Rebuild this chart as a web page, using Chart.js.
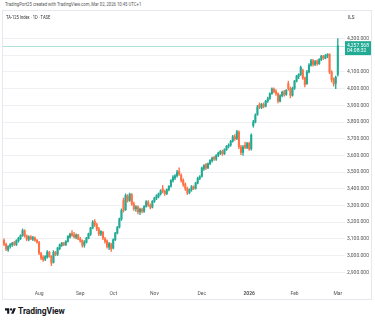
<!DOCTYPE html>
<html>
<head>
<meta charset="utf-8">
<script src="https://cdn.jsdelivr.net/npm/chart.js@4.4.1/dist/chart.umd.min.js"></script>
<style>
  body { margin: 0; width: 375px; height: 323px; background: #fff; position: relative; overflow: hidden; font-family: Roboto, "Noto Sans", sans-serif; }
  #credit { position: absolute; left: 5px; top: 2px; font-size: 4.6px; color: #555; white-space: nowrap; transform: scale(0.92, 1); transform-origin: left center; }
  #frame { position: absolute; left: 2px; top: 10px; width: 368px; height: 288px; border: 1px solid #e6e8ee; }
  #frame canvas { position: absolute; left: 0; top: 0; }
  #symbol { position: absolute; left: 6px; top: 14.5px; font-size: 4.5px; color: #333; white-space: nowrap; z-index: 2; transform: scale(0.9, 1); transform-origin: left center; }
  #currency { position: absolute; left: 348px; top: 14.5px; font-size: 4.6px; color: #333; z-index: 2; }
  #logo { position: absolute; left: 5px; top: 305px; height: 12px; display: flex; align-items: center; gap: 2px; }
  #logo span { font-size: 8.5px; font-weight: 700; color: #131722; letter-spacing: -0.1px; }
</style>
</head>
<body>
<div id="credit">TradingPort25 created with TradingView.com, Mar 02, 2026 10:45 UTC+1</div>
<div id="frame"><canvas id="myChart" width="368" height="288"></canvas></div>
<div id="symbol">TA-125 Index · 1D · TASE</div>
<div id="currency">ILS</div>
<div id="logo">
  <svg width="11" height="8" viewBox="0 0 36 26"><path d="M14 22H7V11H0V4h14v18zM28 22h-8l7.5-18h8L28 22z" fill="#131722"/><circle cx="20" cy="8" r="3.8" fill="#131722"/></svg>
  <span>TradingView</span>
</div>
<script>
// Velas diarias TA-125 (jul 2025 - mar 2026)
const open = [3092,3068,3035,3055,3065,3078,3066,3088,3102,3120,3148,3118,3098,3112,3098,3106,3092,
  3078,3012,2990,2978,2990,3020,2995,2960,3018,3008,3042,3060,3075,3066,3085,3110,3135,3125,3110,3124,
  3100,3090,3062,3080,3104,3128,3165,3205,3185,3160,3128,3140,3100,3088,3050,3070,
  3045,3095,3135,3170,3220,3330,3275,3355,3330,3365,3310,3280,3292,3262,3278,3265,3295,3322,3302,3290,
  3325,3345,3355,3370,3400,3385,3372,3395,3415,3450,3465,3478,3505,3480,3450,3425,3400,3378,3395,3412,3402,3435,3462,
  3475,3520,3545,3525,3550,3568,3588,3578,3600,3612,3625,3610,3635,3655,3662,3685,3712,3700,3740,3650,3618,3660,3648,
  3672,3640,3780,3800,3845,3905,3888,3905,3895,3925,3940,3970,3998,3985,3970,3925,3958,3980,3965,4030,4000,3960,
  4002,4045,4072,4085,4110,4065,4030,4100,4140,4168,4145,4165,4150,4175,4195,4182,4196,4205,4100,4058,4032,
  4085];
const high = [3100,3075,3060,3072,3080,3085,3095,3110,3125,3160,3155,3125,3118,3120,3115,3112,3098,
  3085,3020,3000,3000,3030,3025,3000,3030,3025,3050,3070,3080,3080,3090,3120,3135,3150,3140,3130,3128,
  3110,3095,3090,3110,3135,3170,3210,3215,3195,3170,3150,3145,3110,3095,3080,3075,
  3100,3140,3175,3225,3280,3345,3370,3365,3375,3372,3320,3300,3298,3285,3285,3300,3330,3330,3310,3330,
  3350,3365,3375,3395,3420,3392,3400,3420,3455,3480,3485,3510,3525,3490,3460,3435,3410,3400,3420,3418,3440,3470,3480,
  3530,3545,3552,3555,3575,3590,3595,3605,3620,3630,3632,3640,3660,3670,3690,3720,3725,3750,3748,3660,3660,3680,3678,
  3680,3730,3810,3850,3900,3915,3912,3915,3930,3950,3975,4005,4005,3995,3975,3965,3985,3990,3995,4045,4010,4010,
  4050,4080,4090,4135,4118,4070,4110,4150,4175,4175,4170,4172,4180,4200,4200,4205,4210,4210,4108,4065,4075,
  4300];
const low = [3060,3030,3025,3045,3055,3060,3060,3080,3095,3115,3110,3090,3088,3095,3090,3085,3075,
  3005,2975,2965,2970,2985,2990,2940,2955,3000,3000,3035,3055,3060,3060,3080,3105,3115,3105,3100,3095,
  3080,3050,3050,3075,3100,3120,3160,3175,3150,3120,3120,3095,3075,3045,3035,3025,
  3040,3090,3130,3165,3210,3260,3270,3320,3325,3300,3270,3265,3250,3245,3255,3258,3290,3295,3280,3285,
  3318,3335,3345,3362,3375,3360,3365,3388,3410,3440,3455,3470,3480,3440,3415,3390,3365,3370,3385,3395,3398,3430,3455,
  3470,3510,3515,3520,3545,3560,3570,3570,3592,3605,3600,3605,3630,3645,3655,3680,3690,3695,3640,3605,3600,3640,3640,
  3630,3632,3770,3795,3840,3880,3880,3885,3890,3918,3935,3965,3975,3960,3915,3920,3950,3955,3960,3990,3945,3955,
  3995,4040,4060,4080,4055,4010,4025,4095,4135,4135,4138,4140,4145,4168,4175,4178,4185,4090,4040,4015,4000,
  4075];
const close = [3068,3040,3055,3068,3075,3066,3090,3105,3120,3150,3118,3098,3112,3100,3108,3092,3080,
  3015,2985,2975,2995,3022,2995,2955,3020,3008,3045,3065,3075,3066,3085,3115,3128,3120,3112,3124,3100,
  3088,3062,3082,3105,3130,3165,3200,3185,3160,3130,3145,3105,3085,3055,3072,3040,
  3095,3135,3168,3220,3270,3272,3360,3330,3368,3310,3280,3292,3262,3278,3265,3295,3322,3302,3290,3325,
  3345,3358,3370,3388,3385,3372,3395,3415,3450,3470,3478,3500,3488,3450,3425,3400,3375,3395,3412,3402,3435,3462,3472,
  3525,3540,3525,3550,3570,3585,3578,3600,3615,3625,3610,3635,3655,3662,3685,3712,3700,3742,3652,3618,3650,3648,3672,
  3640,3722,3800,3840,3890,3888,3905,3895,3925,3940,3970,3998,3982,3970,3925,3958,3978,3965,3990,4000,3960,4002,
  4045,4075,4085,4128,4065,4025,4100,4142,4168,4145,4162,4150,4175,4195,4182,4198,4205,4100,4055,4030,4068,
  4257.568];

// Etiquetas del eje de tiempo (índice de la primera vela del mes)
const monthTickLabels = ['Aug', 'Sep', 'Oct', 'Nov', 'Dec', '2026', 'Feb', 'Mar'];
const monthTickBars = [17, 37, 53, 73, 96, 119, 141, 162];

// Eje de precios
const priceTicks = [2900, 3000, 3100, 3200, 3300, 3400, 3500, 3600, 3700, 3800, 3900, 4000, 4100, 4200, 4300];
const hiddenPriceLabels = [4200]; // tapado por la etiqueta del último precio
const lastPrice = close[close.length - 1];
const countdown = '04:08:32';
const rightOffsetSlots = ['r1', 'r2', 'r3'];

const UP = '#22ab94';
const DOWN = '#ff7043';
const FONT = 'Roboto, "Noto Sans", sans-serif';

const fmt = v => v.toLocaleString('en-US', { minimumFractionDigits: 3, maximumFractionDigits: 3 });

const colors = close.map((c, i) => (c >= open[i] ? UP : DOWN));
const labels = close.map((_, i) => 'd' + i).concat(rightOffsetSlots);

// Etiquetas de meses sobre la escala x
const monthLabelsPlugin = {
    id: 'monthLabels',
    afterDraw(chart) {
        const { ctx, scales: { x } } = chart;
        ctx.save();
        ctx.fillStyle = '#555';
        ctx.textAlign = 'center';
        ctx.textBaseline = 'middle';
        monthTickLabels.forEach((txt, k) => {
            ctx.font = (txt === '2026' ? 'bold ' : '') + '5px ' + FONT;
            ctx.fillText(txt, x.getPixelForValue(monthTickBars[k]), x.top + 7);
        });
        ctx.restore();
    }
};

// Línea y etiqueta del último precio
const lastPriceMark = {
    id: 'lastPriceMark',
    beforeDatasetsDraw(chart) {
        const { ctx, chartArea, scales: { y } } = chart;
        const py = Math.round(y.getPixelForValue(lastPrice)) + 0.5;
        ctx.save();
        ctx.strokeStyle = 'rgba(34,171,148,0.35)';
        ctx.lineWidth = 1;
        ctx.beginPath();
        ctx.moveTo(chartArea.left, py);
        ctx.lineTo(chartArea.right, py);
        ctx.stroke();
        ctx.restore();
    },
    afterDraw(chart) {
        const { ctx, chartArea, scales: { y }, width } = chart;
        const py = y.getPixelForValue(lastPrice);
        ctx.save();
        ctx.fillStyle = UP;
        ctx.fillRect(chartArea.right, py - 4.5, width - chartArea.right, 14);
        ctx.fillStyle = '#fff';
        ctx.font = '5px ' + FONT;
        ctx.textBaseline = 'middle';
        ctx.textAlign = 'left';
        ctx.fillText(fmt(lastPrice), chartArea.right + 2, py);
        ctx.fillText(countdown, chartArea.right + 2, py + 5.5);
        ctx.restore();
    }
};

const config = {
    type: 'bar',
    data: {
        labels: labels,
        datasets: [
            {
                label: 'wick',
                data: low.map((l, i) => [l, high[i]]),
                backgroundColor: colors,
                barThickness: 0.7,
                grouped: false,
                order: 2
            },
            {
                label: 'body',
                data: open.map((o, i) => [o, close[i]]),
                backgroundColor: colors,
                barThickness: 1.4,
                grouped: false,
                order: 1
            }
        ]
    },
    options: {
        responsive: false,
        animation: false,
        events: [],
        layout: { padding: 0, autoPadding: false },
        plugins: {
            legend: { display: false },
            tooltip: { enabled: false }
        },
        scales: {
            x: {
                offset: true,
                grid: { display: false },
                border: { display: false },
                afterFit: s => { s.height = 12; },
                ticks: { display: false }
            },
            y: {
                position: 'right',
                min: 2811.8,
                max: 4435.3,
                grid: { color: '#eff0f3', drawTicks: false },
                border: { display: false },
                afterBuildTicks: s => { s.ticks = priceTicks.map(v => ({ value: v })); },
                afterFit: s => { s.width = 26; },
                ticks: {
                    padding: 2,
                    color: '#555',
                    font: { size: 5, family: FONT },
                    callback: v => (hiddenPriceLabels.includes(v) ? '' : fmt(v))
                }
            }
        }
    },
    plugins: [lastPriceMark, monthLabelsPlugin]
};

const myChart = new Chart(document.getElementById('myChart'), config);
</script>
</body>
</html>
